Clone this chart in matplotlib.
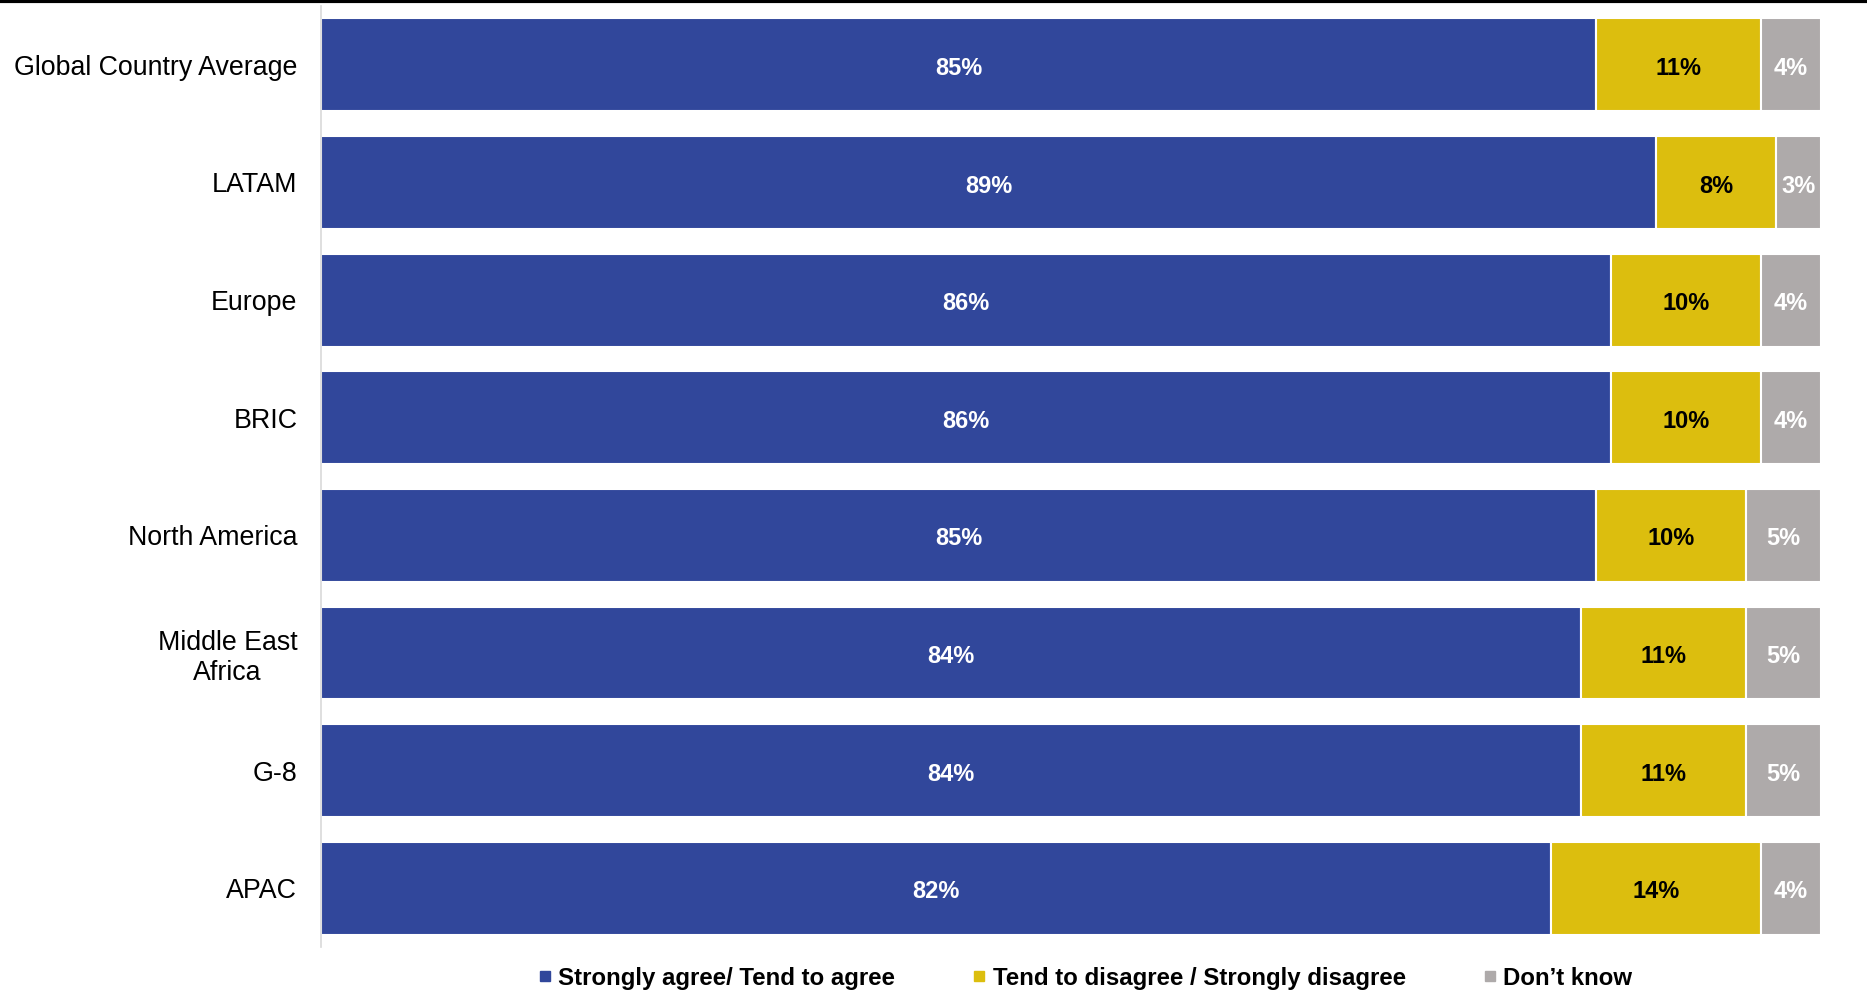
import matplotlib
matplotlib.use("Agg")
import matplotlib.pyplot as plt
from matplotlib.lines import Line2D
import numpy as np

plt.rcParams['font.family'] = ['Liberation Sans', 'DejaVu Sans']

regions = ["Global Country Average", "LATAM", "Europe", "BRIC", "North America",
           "Middle East\nAfrica", "G-8", "APAC"]
agree = [85, 89, 86, 86, 85, 84, 84, 82]
disagree = [11, 8, 10, 10, 10, 11, 11, 14]
dont_know = [4, 3, 4, 4, 5, 5, 5, 4]

series = [
    ("Strongly agree/ Tend to agree", agree, "#31479B", "white"),
    ("Tend to disagree / Strongly disagree", disagree, "#DCBE0E", "black"),
    ("Don\u2019t know", dont_know, "#AEAAAA", "white"),
]

fig = plt.figure(figsize=(18.67, 9.90), dpi=100)
ax = fig.add_axes([0.1719, 0.0434, 0.8035, 0.9505])

y = np.arange(len(regions))
left = np.zeros(len(regions))
for name, vals, color, txtcolor in series:
    vals = np.array(vals, dtype=float)
    ax.barh(y, vals, left=left, height=0.79, color=color,
            edgecolor="white", linewidth=1.5)
    for yi, (l, v) in enumerate(zip(left, vals)):
        # small nudge down so the label sits in the optical middle of the bar
        ax.text(l + v / 2, yi + 0.03, f"{int(v)}%", ha="center", va="center",
                color=txtcolor, fontsize=17, fontweight="bold")
    left += vals

ax.set_xlim(0, 100)
ax.set_ylim(len(regions) - 0.5, -0.5)
ax.set_yticks(y)
ax.set_yticklabels(regions, fontsize=19.3, multialignment="center")
ax.tick_params(axis="y", length=0, pad=17)
ax.set_xticks([])
for s in ["top", "right", "bottom"]:
    ax.spines[s].set_visible(False)
ax.spines["left"].set_color("#D9D9D9")
ax.spines["left"].set_linewidth(1.2)

# black rule along the top
fig.add_artist(Line2D([0, 1], [0.999, 0.999], color="black", linewidth=3,
                      transform=fig.transFigure))

handles = [Line2D([], [], marker="s", ls="", color=c, markersize=7)
           for _, _, c, _ in series]
fig.legend(handles, [s[0] for s in series], loc="center", ncol=3,
           bbox_to_anchor=(0.5815, 0.012), frameon=False,
           prop={"size": 17.3, "weight": "bold"},
           handlelength=0.5, handletextpad=0.3, columnspacing=3.25,
           borderpad=0)

fig.savefig("out.png", dpi=100)
